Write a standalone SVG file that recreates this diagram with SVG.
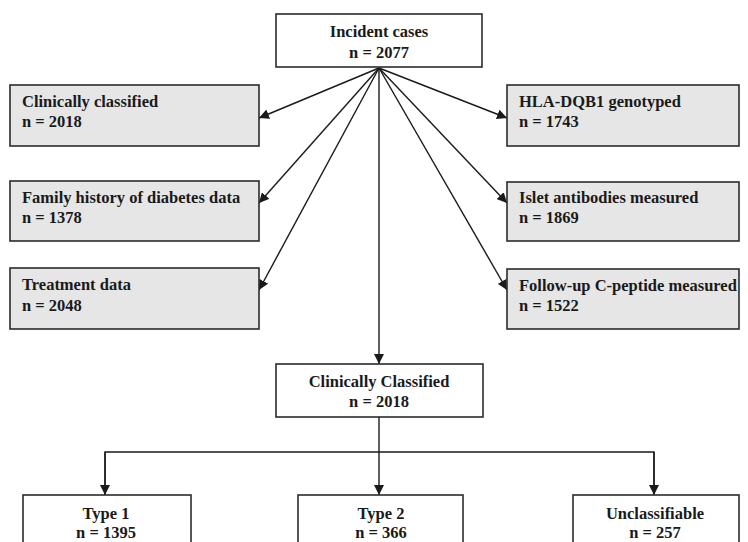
<svg xmlns="http://www.w3.org/2000/svg" width="748" height="542" viewBox="0 0 748 542">
<style>
.box{fill:#ffffff;stroke:#2b2b2b;stroke-width:1.6}
.side{fill:#e6e6e6;stroke:#2b2b2b;stroke-width:1.6}
.t{font-family:"Liberation Serif","Times New Roman",serif;font-weight:bold;font-size:16.5px;fill:#1a1a1a}
.c{text-anchor:middle}
.ln{fill:none;stroke:#1a1a1a;stroke-width:1.4}
</style>
<defs>
<marker id="ah" viewBox="0 0 10 10" refX="10" refY="5" markerWidth="10" markerHeight="10" markerUnits="userSpaceOnUse" orient="auto">
<path d="M0,0 L10,5 L0,10 Z" fill="#1a1a1a"/>
</marker>
</defs>
<rect width="748" height="542" fill="#ffffff"/>
<g id="connectors">
<line class="ln" x1="379" y1="68" x2="259" y2="118" marker-end="url(#ah)"/>
<line class="ln" x1="379" y1="68" x2="259" y2="203" marker-end="url(#ah)"/>
<line class="ln" x1="379" y1="68" x2="259" y2="290" marker-end="url(#ah)"/>
<line class="ln" x1="379" y1="68" x2="507" y2="118" marker-end="url(#ah)"/>
<line class="ln" x1="379" y1="68" x2="507" y2="203" marker-end="url(#ah)"/>
<line class="ln" x1="379" y1="68" x2="507" y2="290" marker-end="url(#ah)"/>
<line class="ln" x1="379" y1="68" x2="379" y2="364" marker-end="url(#ah)"/>
<line class="ln" x1="379" y1="417" x2="379" y2="495" marker-end="url(#ah)"/>
<path class="ln" d="M105,495 V452 H654 V495"/>
<line class="ln" x1="105" y1="452" x2="105" y2="495" marker-end="url(#ah)"/>
<line class="ln" x1="654" y1="452" x2="654" y2="495" marker-end="url(#ah)"/>
</g>
<g id="incident">
<rect class="box" x="276" y="14" width="206" height="53"/>
<text class="t c" x="379" y="37">Incident cases</text>
<text class="t c" x="379" y="58">n = 2077</text>
</g>
<g id="clin-classified">
<rect class="side" x="10" y="85" width="249" height="61"/>
<text class="t" x="22" y="107">Clinically classified</text>
<text class="t" x="22" y="127">n = 2018</text>
</g>
<g id="family-history">
<rect class="side" x="10" y="181" width="249" height="60"/>
<text class="t" x="22" y="203">Family history of diabetes data</text>
<text class="t" x="22" y="223">n = 1378</text>
</g>
<g id="treatment">
<rect class="side" x="10" y="268" width="249" height="61"/>
<text class="t" x="22" y="290">Treatment data</text>
<text class="t" x="22" y="311">n = 2048</text>
</g>
<g id="hla">
<rect class="side" x="507" y="85" width="232" height="61"/>
<text class="t" x="519" y="107">HLA-DQB1 genotyped</text>
<text class="t" x="519" y="127">n = 1743</text>
</g>
<g id="islet">
<rect class="side" x="507" y="182" width="232" height="59"/>
<text class="t" x="519" y="203">Islet antibodies measured</text>
<text class="t" x="519" y="223">n = 1869</text>
</g>
<g id="cpeptide">
<rect class="side" x="507" y="269" width="232" height="60"/>
<text class="t" x="519" y="291">Follow-up C-peptide measured</text>
<text class="t" x="519" y="311">n = 1522</text>
</g>
<g id="clin-Classified">
<rect class="box" x="276" y="364" width="207" height="53"/>
<text class="t c" x="379" y="387">Clinically Classified</text>
<text class="t c" x="379" y="407">n = 2018</text>
</g>
<g id="type1">
<rect class="box" x="23" y="495" width="168" height="60"/>
<text class="t c" x="106" y="519">Type 1</text>
<text class="t c" x="106" y="538">n = 1395</text>
</g>
<g id="type2">
<rect class="box" x="298" y="495" width="165" height="60"/>
<text class="t c" x="381" y="519">Type 2</text>
<text class="t c" x="381" y="538">n = 366</text>
</g>
<g id="unclassifiable">
<rect class="box" x="573" y="495" width="166" height="60"/>
<text class="t c" x="655" y="519">Unclassifiable</text>
<text class="t c" x="655" y="538">n = 257</text>
</g>
</svg>
